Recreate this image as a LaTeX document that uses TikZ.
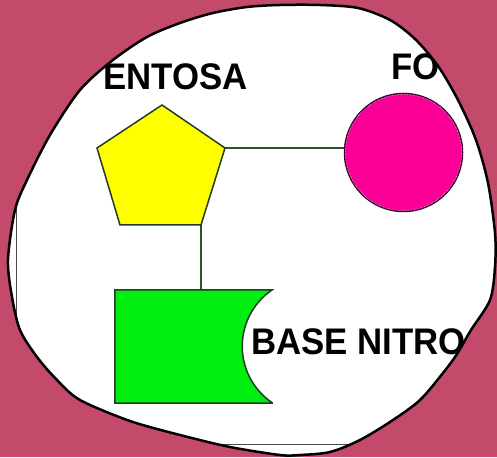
\documentclass[tikz,border=0pt]{standalone}
\usepackage{fontspec}
\setmainfont{Liberation Sans}[FakeStretch=0.94]
\definecolor{bgc}{RGB}{196,74,107}
\definecolor{yelc}{RGB}{255,255,0}
\definecolor{grnc}{RGB}{0,238,16}
\definecolor{magc}{RGB}{250,0,150}
\definecolor{edgec}{RGB}{35,60,35}
\definecolor{connc}{RGB}{40,85,40}
\definecolor{circedge}{RGB}{60,0,50}
\begin{document}
\begin{tikzpicture}[x=1pt,y=1pt,
  lbl/.style={inner sep=0pt, font=\fontsize{37}{40}\selectfont\bfseries, text=black, anchor=base west},
  conn/.style={draw=connc, line width=1.2pt},
  shapeedge/.style={draw=edgec, line width=1.5pt, line join=miter}]
\fill[bgc] (0,0) rectangle (497,457);
\useasboundingbox (0,0) rectangle (497,457);
\begin{scope}
\clip plot[smooth cycle, tension=0.5] coordinates {
(280,452) (320,452) (358,449) (390,437) (415,418) (438,391) (458,357) (476,317)
(488,274) (495,224) (495,190) (490,157) (471,127) (457,103) (443,84) (420,57)
(393,37) (360,17) (330,5) (300,2) (280,2) (230,10) (180,22) (130,36) (80,57)
(57,77) (37,100) (20,127) (12,160) (8,197) (15,247) (27,277) (50,322) (80,367)
(113,397) (147,420) (180,434) (213,444) (247,450)};
\fill[white] (0,0) rectangle (497,457);
\draw[gray!60!black, line width=1pt] (16,13) rectangle (510,451);
% pentagon corners
\coordinate (p1) at (162,352);
\coordinate (p2) at (97,309);
\coordinate (p3) at (120,232);
\coordinate (p4) at (201,232);
\coordinate (p5) at (225,309);
% nodes
\node[circle, minimum size=118, inner sep=0pt, fill=magc, draw=circedge, line width=1.5pt] (fos) at (403.5,304.5) {};
\draw[white, densely dotted, line width=0.5pt] (fos.center) circle (58.2);
\node[minimum width=157, minimum height=113, inner sep=0pt] (base) at (193.5,110.5) {};
\draw[conn] (p5) -- (p5 -| fos.west);
\draw[conn] (p4) -- (p4 |- base.north);
\filldraw[fill=yelc, shapeedge] (p1) -- (p2) -- (p3) -- (p4) -- (p5) -- cycle;
\filldraw[fill=grnc, shapeedge] (base.south east) -- (base.south west) -- (base.north west) -- (base.north east)
  arc[start angle=124.1, end angle=235.9, radius=68.2] -- cycle;
\node[lbl] (pento) at (103,367) {ENTOSA};
\node[lbl] (fosl) at (391,377) {FO};
\node[lbl] (basel) at (251,102) {BASE NITRO};
\end{scope}
\draw[black, line width=2.5pt] plot[smooth cycle, tension=0.5] coordinates {
(280,452) (320,452) (358,449) (390,437) (415,418) (438,391) (458,357) (476,317)
(488,274) (495,224) (495,190) (490,157) (471,127) (457,103) (443,84) (420,57)
(393,37) (360,17) (330,5) (300,2) (280,2) (230,10) (180,22) (130,36) (80,57)
(57,77) (37,100) (20,127) (12,160) (8,197) (15,247) (27,277) (50,322) (80,367)
(113,397) (147,420) (180,434) (213,444) (247,450)};
\end{tikzpicture}
\end{document}
